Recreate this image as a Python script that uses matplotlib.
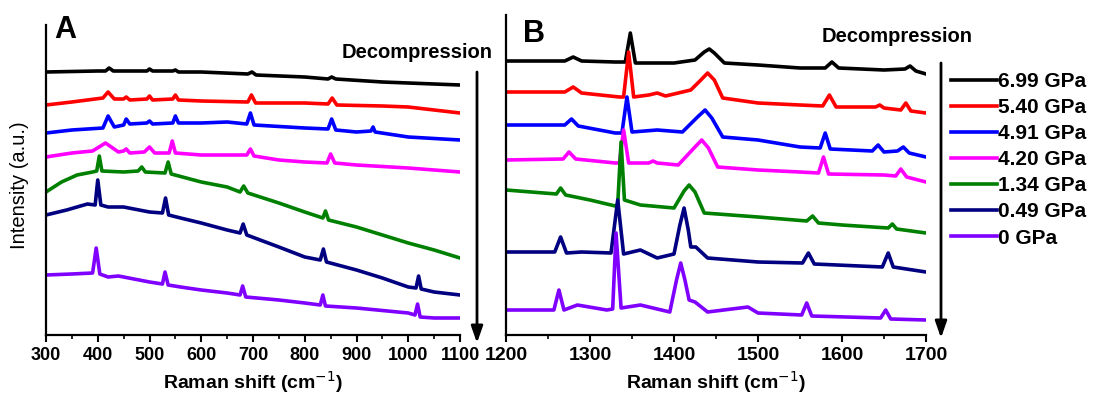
import matplotlib
matplotlib.use("Agg")
import matplotlib.pyplot as plt
from matplotlib.ticker import MultipleLocator

plt.rcParams['font.family'] = ['Liberation Sans', 'DejaVu Sans']

labels = ['6.99 GPa', '5.40 GPa', '4.91 GPa', '4.20 GPa', '1.34 GPa', '0.49 GPa', '0 GPa']
colors = ['#000000', '#FF0000', '#0000FF', '#FF00FF', '#008000', '#000080', '#8000FF']

# ---- panel A (300-1100 cm-1), stacked spectra ----
a_x_699 = [300, 400, 415, 422, 430, 495, 500, 506, 545, 550, 556, 600, 690, 698, 706, 800, 845, 852, 860, 950, 1100]
a_y_699 = [263, 264, 264, 267, 264, 264, 266, 264, 264, 265, 263, 263, 261, 263, 260, 258, 256, 258, 256, 253, 250]

a_x_540 = [300, 350, 410, 420, 432, 450, 455, 462, 495, 500, 506, 545, 550, 556, 600, 690, 697, 705, 800, 845, 853, 862, 950, 1000, 1100]
a_y_540 = [230, 233, 237, 243, 236, 236, 238, 235, 236, 239, 235, 236, 240, 235, 234, 233, 240, 232, 232, 231, 237, 230, 229, 228, 222]

a_x_491 = [300, 350, 410, 420, 432, 450, 455, 462, 495, 500, 506, 545, 550, 556, 600, 650, 688, 695, 702, 800, 845, 852, 860, 900, 928, 932, 936, 1000, 1100]
a_y_491 = [202, 205, 207, 219, 208, 210, 216, 211, 212, 214, 211, 212, 219, 212, 212, 213, 211, 222, 210, 207, 206, 216, 205, 203, 204, 208, 203, 198, 195]

a_x_420 = [300, 350, 390, 415, 440, 450, 455, 462, 490, 500, 510, 538, 544, 550, 600, 688, 695, 702, 750, 800, 843, 850, 858, 900, 1000, 1100]
a_y_420 = [178, 182, 184, 192, 183, 184, 186, 182, 183, 188, 182, 182, 194, 182, 180, 180, 186, 179, 175, 173, 172, 181, 172, 170, 167, 163]

a_x_134 = [300, 330, 360, 390, 398, 403, 408, 450, 478, 485, 492, 530, 536, 542, 600, 650, 675, 682, 690, 750, 800, 835, 840, 846, 900, 950, 1000, 1050, 1100]
a_y_134 = [143, 153, 160, 163, 164, 179, 164, 163, 164, 168, 163, 162, 173, 161, 153, 148, 143, 149, 142, 132, 123, 117, 124, 115, 108, 100, 92, 85, 77]

a_x_049 = [300, 340, 380, 395, 400, 406, 420, 450, 500, 525, 531, 537, 560, 600, 650, 675, 681, 688, 750, 800, 830, 836, 842, 900, 950, 1000, 1015, 1020, 1025, 1050, 1100]
a_y_049 = [120, 125, 131, 130, 155, 130, 128, 128, 123, 122, 137, 120, 117, 112, 105, 102, 111, 100, 88, 78, 75, 86, 73, 65, 57, 48, 47, 59, 46, 43, 40]

a_x_000 = [300, 350, 390, 397, 404, 420, 440, 500, 525, 530, 536, 560, 600, 650, 675, 680, 686, 750, 800, 830, 835, 840, 900, 1000, 1013, 1018, 1023, 1050, 1100]
a_y_000 = [60, 61, 62, 87, 61, 58, 59, 53, 51, 63, 50, 48, 45, 42, 40, 49, 38, 35, 32, 30, 40, 29, 27, 22, 20, 31, 18, 17, 17]

# ---- panel B (1200-1700 cm-1) ----
b_x_699 = [1200, 1270, 1280, 1290, 1330, 1342, 1348, 1354, 1365, 1400, 1425, 1436, 1442, 1448, 1460, 1500, 1550, 1580, 1588, 1596, 1650, 1675, 1681, 1688, 1700]
b_y_699 = [274, 274, 278, 274, 273, 273, 302, 272, 272, 272, 275, 283, 286, 282, 272, 270, 267, 267, 273, 267, 265, 266, 269, 264, 261]

b_x_540 = [1200, 1270, 1280, 1290, 1335, 1340, 1346, 1352, 1370, 1380, 1390, 1420, 1432, 1440, 1448, 1458, 1500, 1550, 1577, 1585, 1593, 1640, 1645, 1650, 1670, 1676, 1682, 1700]
b_y_540 = [243, 243, 248, 242, 238, 238, 283, 238, 240, 242, 239, 245, 255, 262, 255, 237, 232, 230, 229, 240, 228, 228, 230, 227, 225, 232, 224, 222]

b_x_491 = [1200, 1270, 1278, 1286, 1330, 1338, 1344, 1350, 1380, 1410, 1428, 1437, 1445, 1458, 1500, 1550, 1574, 1580, 1586, 1636, 1643, 1650, 1666, 1673, 1680, 1700]
b_y_491 = [210, 210, 216, 209, 202, 202, 238, 203, 205, 203, 218, 225, 217, 198, 195, 188, 187, 202, 186, 184, 190, 183, 184, 188, 182, 178]

b_x_420 = [1200, 1268, 1275, 1283, 1330, 1335, 1340, 1346, 1370, 1375, 1380, 1405, 1425, 1433, 1441, 1452, 1500, 1550, 1572, 1578, 1584, 1650, 1664, 1670, 1677, 1700]
b_y_420 = [175, 176, 183, 176, 172, 172, 205, 172, 172, 174, 172, 170, 188, 195, 187, 168, 165, 163, 162, 178, 161, 160, 159, 166, 158, 153]

b_x_134 = [1200, 1260, 1265, 1271, 1300, 1330, 1333, 1337, 1341, 1360, 1400, 1412, 1418, 1425, 1436, 1500, 1558, 1565, 1572, 1600, 1655, 1660, 1665, 1700]
b_y_134 = [145, 141, 147, 140, 135, 129, 131, 193, 135, 130, 127, 144, 150, 143, 122, 118, 114, 119, 112, 110, 107, 111, 106, 102]

b_x_049 = [1200, 1258, 1265, 1272, 1290, 1325, 1333, 1340, 1360, 1380, 1400, 1407, 1412, 1417, 1420, 1426, 1440, 1500, 1553, 1560, 1567, 1648, 1655, 1661, 1700]
b_y_049 = [83, 83, 98, 82, 83, 82, 135, 81, 85, 77, 81, 110, 127, 105, 88, 88, 77, 73, 72, 82, 71, 68, 82, 68, 63]

b_x_000 = [1200, 1257, 1263, 1269, 1285, 1320, 1327, 1331, 1337, 1360, 1395, 1403, 1408, 1413, 1418, 1425, 1440, 1488, 1500, 1552, 1558, 1564, 1646, 1652, 1658, 1700]
b_y_000 = [25, 25, 45, 25, 30, 25, 26, 102, 27, 30, 23, 55, 72, 55, 35, 33, 23, 28, 22, 20, 32, 19, 17, 25, 16, 15]

spectra_a = [(a_x_699, a_y_699), (a_x_540, a_y_540), (a_x_491, a_y_491), (a_x_420, a_y_420),
             (a_x_134, a_y_134), (a_x_049, a_y_049), (a_x_000, a_y_000)]
spectra_b = [(b_x_699, b_y_699), (b_x_540, b_y_540), (b_x_491, b_y_491), (b_x_420, b_y_420),
             (b_x_134, b_y_134), (b_x_049, b_y_049), (b_x_000, b_y_000)]

W, H = 1093, 396
fig = plt.figure(figsize=(W / 100, H / 100), dpi=100)


def box(x0, y0, x1, y1):
    # pixel box (top-left origin) -> figure fraction rect
    return [x0 / W, 1 - y1 / H, (x1 - x0) / W, (y1 - y0) / H]


ax_a = fig.add_axes(box(46, 25, 460, 335))
ax_b = fig.add_axes(box(506, 15, 926, 335))

for ax, spectra, xlim, ytop, fs in [(ax_a, spectra_a, (300, 1100), 310, 13),
                                    (ax_b, spectra_b, (1200, 1700), 320, 14)]:
    for (xs, ys), c, lab in zip(spectra, colors, labels):
        ax.plot(xs, ys, color=c, lw=2.6, label=lab, solid_joinstyle='round')
    ax.set_xlim(*xlim)
    ax.set_ylim(0, ytop)
    ax.spines['top'].set_visible(False)
    ax.spines['right'].set_visible(False)
    ax.spines['left'].set_linewidth(1.6)
    ax.spines['bottom'].set_linewidth(1.6)
    ax.set_yticks([])
    ax.xaxis.set_major_locator(MultipleLocator(100))
    ax.xaxis.set_minor_locator(MultipleLocator(50))
    ax.tick_params(axis='x', which='major', direction='out', length=5, width=1.5, labelsize=fs, pad=4)
    ax.tick_params(axis='x', which='minor', direction='out', length=3, width=1.2)
    for t in ax.get_xticklabels():
        t.set_fontweight('bold')
    ax.set_xlabel('Raman shift (cm$^{-1}$)', fontsize=14, fontweight='bold', labelpad=3)

ax_a.set_ylabel('Intensity (a.u.)', fontsize=14.5)
ax_a.yaxis.set_label_coords(-0.04, 0.484)

fig.text(54 / W, 1 - 30 / H, 'A', fontsize=22, fontweight='bold', va='center')
fig.text(523 / W, 1 - 34 / H, 'B', fontsize=22, fontweight='bold', va='center')
fig.text(342 / W, 1 - 53 / H, 'Decompression', fontsize=14.5, fontweight='bold', va='center')
fig.text(822 / W, 1 - 37 / H, 'Decompression', fontsize=14.5, fontweight='bold', va='center')

# arrows (figure pixels, origin bottom-left)
for xa, ytop_px, ybot_px in [(477, 72, 343), (941, 63, 338)]:
    fig.add_artist(plt.Annotation('', xy=(xa, H - ybot_px), xytext=(xa, H - ytop_px),
                                  xycoords='figure pixels', textcoords='figure pixels',
                                  arrowprops=dict(arrowstyle='-|>,head_length=1.0,head_width=0.35',
                                                  color='black', lw=2, shrinkA=0, shrinkB=0)))

handles, labs = ax_b.get_legend_handles_labels()
leg = fig.legend(handles, labs, loc='upper left', bbox_to_anchor=(951 / W, 1 - 72 / H),
                 frameon=False, prop={'size': 15, 'weight': 'bold'}, handlelength=2.2,
                 handletextpad=0.08, labelspacing=0.34, borderpad=0, borderaxespad=0)
for ln in leg.get_lines():
    ln.set_linewidth(2.6)

fig.savefig('out.png', dpi=100)
